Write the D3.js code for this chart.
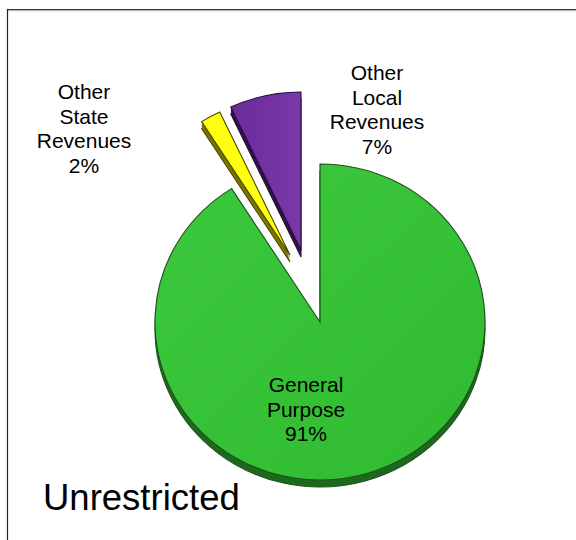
<!DOCTYPE html>
<html>
<head>
<meta charset="utf-8">
<script src="https://cdn.jsdelivr.net/npm/d3@7"></script>
<style>
  html, body { margin: 0; padding: 0; background: #fff; }
  svg { display: block; }
</style>
</head>
<body>
<svg id="chart" width="576" height="540"></svg>
<script>
// ---- data ----
const categories = ["General Purpose", "Other State Revenues", "Other Local Revenues"];
const values = [91, 2, 7];
const labelLines = [["General", "Purpose"], ["Other", "State", "Revenues"], ["Other", "Local", "Revenues"]];
const title = "Unrestricted";

// ---- styles ----
const topColors = ["#35c135", "#ffff10", "#7232a2"];
const sideColors = ["#1d6a1d", "#7a7400", "#301448"];
const strokeColors = ["#1f4f1f", "#4a4600", "#24103a"];
const explodeOffsets = [[0, 0], [-30, -67], [-19, -72]];

const svg = d3.select("#chart");
const W = 576, H = 540;
const cx = 320, cy = 322, R = 165, ryScale = 158 / 165, depth = 7;

// frame
svg.append("line").attr("x1", 7).attr("x2", W).attr("y1", 9.5).attr("y2", 9.5).attr("stroke", "#333").attr("stroke-width", 1.2);
svg.append("line").attr("x1", 7).attr("x2", W).attr("y1", 10.7).attr("y2", 10.7).attr("stroke", "#aaa").attr("stroke-width", 1);
svg.append("line").attr("x1", 7.5).attr("x2", 7.5).attr("y1", 9).attr("y2", H).attr("stroke", "#222").attr("stroke-width", 1.2);

const defs = svg.append("defs");
const g0 = defs.append("linearGradient").attr("id", "gGreen").attr("x1", "0").attr("y1", "0").attr("x2", "1").attr("y2", "1");
g0.append("stop").attr("offset", "0").attr("stop-color", "#3dc93d");
g0.append("stop").attr("offset", "1").attr("stop-color", "#2fba2f");
const g2 = defs.append("linearGradient").attr("id", "gPurple").attr("x1", "0").attr("y1", "0").attr("x2", "1").attr("y2", "0");
g2.append("stop").attr("offset", "0").attr("stop-color", "#6a2c9a");
g2.append("stop").attr("offset", "1").attr("stop-color", "#7a38aa");
const fills = ["url(#gGreen)", "#ffff10", "url(#gPurple)"];

const pie = d3.pie().sort(null).value(d => d)(values);
const arc = d3.arc().innerRadius(0).outerRadius(R);

pie.forEach((p, i) => {
  const [ox, oy] = explodeOffsets[i];
  const g = svg.append("g").attr("transform", `translate(${cx + ox},${cy + oy})`);
  // extrusion (side)
  for (let d = depth; d >= 1; d--) {
    g.append("path")
      .attr("d", arc(p))
      .attr("transform", `translate(0,${d}) scale(1,${ryScale})`)
      .attr("fill", sideColors[i])
      .attr("stroke", d === depth ? strokeColors[i] : "none")
      .attr("stroke-width", 1 / ryScale);
  }
  g.append("path")
    .attr("d", arc(p))
    .attr("transform", `scale(1,${ryScale})`)
    .attr("fill", fills[i])
    .attr("stroke", strokeColors[i])
    .attr("stroke-width", 1.1)
    .attr("stroke-linejoin", "miter");
});

// labels
const font = "'Liberation Sans', Arial, sans-serif";
const labelPos = [[306, 392], [84, 99], [377, 80]];
const lh = 24.6;
labelPos.forEach((pos, i) => {
  const lines = labelLines[i].concat([values[i] + "%"]);
  const t = svg.append("text")
    .attr("x", pos[0]).attr("y", pos[1])
    .attr("text-anchor", "middle")
    .attr("font-family", font)
    .attr("font-size", 21)
    .attr("fill", "#000");
  lines.forEach((l, k) => {
    t.append("tspan").attr("x", pos[0]).attr("y", pos[1] + k * lh).text(l);
  });
});

svg.append("text")
  .attr("x", 43).attr("y", 510)
  .attr("font-family", font)
  .attr("font-size", 36.5)
  .attr("fill", "#000")
  .text(title);
</script>
</body>
</html>
